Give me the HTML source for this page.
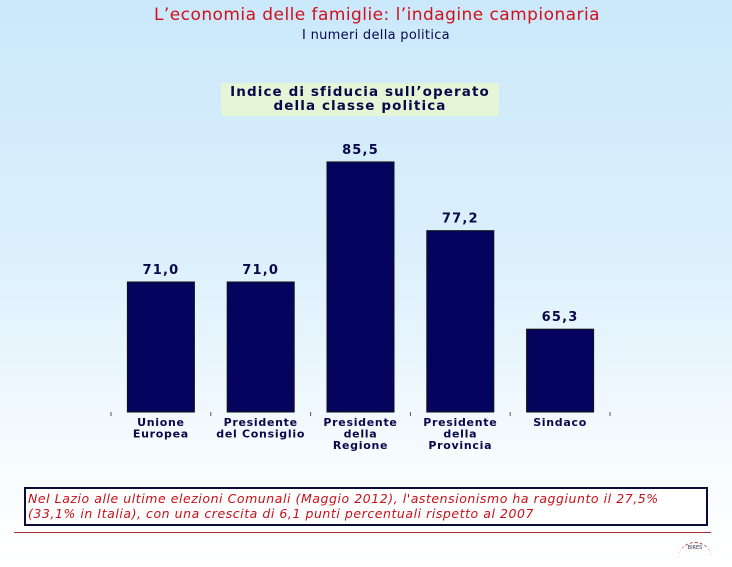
<!DOCTYPE html>
<html><head><meta charset="utf-8"><style>
body{margin:0;width:732px;height:567px;overflow:hidden;font-family:"DejaVu Sans","Liberation Sans",sans-serif;background:linear-gradient(#cbe8fb 0%,#dcf0fc 45%,#f6fbfe 80%,#ffffff 100%);position:relative}
.t{position:absolute;left:0;width:732px;text-align:center}
</style></head><body>
<div class="t" style="top:5px;left:11px;font-size:17px;color:#d0101a;letter-spacing:0.45px">L’economia delle famiglie: l’indagine campionaria</div>
<div class="t" style="top:28px;left:10px;font-size:13px;color:#0a0a50;letter-spacing:0.3px">I numeri della politica</div>
<div style="position:absolute;left:221px;top:83px;width:278px;height:31px;background:#e6f5d6;color:#08084a;font-weight:bold;font-size:13.5px;text-align:center;line-height:14px;padding-top:2px;letter-spacing:1.1px">Indice di sfiducia sull’operato<br>della classe politica</div>
<svg id="chart" width="732" height="567" style="position:absolute;left:0;top:0"></svg>
<div style="position:absolute;left:24px;top:487px;width:678px;height:33px;border:2px solid #0c0c3a;background:#fff;color:#c8101a;font-style:italic;font-size:12.5px;line-height:15px;padding:2px 0 0 2px;letter-spacing:0.55px;white-space:nowrap">Nel Lazio alle ultime elezioni Comunali (Maggio 2012), l'astensionismo ha raggiunto il 27,5%<br>(33,1% in Italia), con una crescita di 6,1 punti percentuali rispetto al 2007</div>
<div style="position:absolute;left:14px;top:532px;width:697px;height:1px;background:#a03030"></div>
<div style="position:absolute;left:678px;top:542px;width:34px;height:18px;border-top:1px dashed #a04040;border-radius:17px 17px 0 0;font-size:5px;color:#335;text-align:center;line-height:10px">BIRES</div>
<script>
const categories=[["Unione","Europea"],["Presidente","del Consiglio"],["Presidente","della","Regione"],["Presidente","della","Provincia"],["Sindaco"]];
const values=[71.0,71.0,85.5,77.2,65.3];
const valueLabels=["71,0","71,0","85,5","77,2","65,3"];
const ns="http://www.w3.org/2000/svg";
const svg=document.getElementById('chart');
const base=412,v0=55.3,k=8.28,x0=111,step=99.8,bw=67;
const y=v=>base-(v-v0)*k;
const xc=i=>x0+step*(i+0.5);
function mk(t,a){const e=document.createElementNS(ns,t);for(const n in a)e.setAttribute(n,a[n]);svg.appendChild(e);return e;}
for(let i=0;i<=categories.length;i++){
  const t=mk('line',{x1:x0+step*i,x2:x0+step*i,y1:base,y2:base+4,stroke:'#555','stroke-width':1});
  
  
}
values.forEach((v,i)=>{
  const r=mk('rect',{x:xc(i)-bw/2,y:y(v),width:bw,height:base-y(v),fill:'#04045e',stroke:'#111',"stroke-width":1});
  
  
  const l=mk('text',{x:xc(i),y:y(v)-8,'text-anchor':'middle','font-size':13,'font-weight':'bold',fill:'#08084a','font-family':'DejaVu Sans, sans-serif','letter-spacing':'1.2'});
  l.textContent=valueLabels[i];
  
  
  categories[i].forEach((s,j)=>{
    const c=mk('text',{x:xc(i),y:426+j*11.5,'text-anchor':'middle','font-size':11,'font-weight':'bold',fill:'#08084a','font-family':'DejaVu Sans, sans-serif','letter-spacing':'0.7'});
    c.textContent=s;
    
    
  });
});
</script>
</body></html>
